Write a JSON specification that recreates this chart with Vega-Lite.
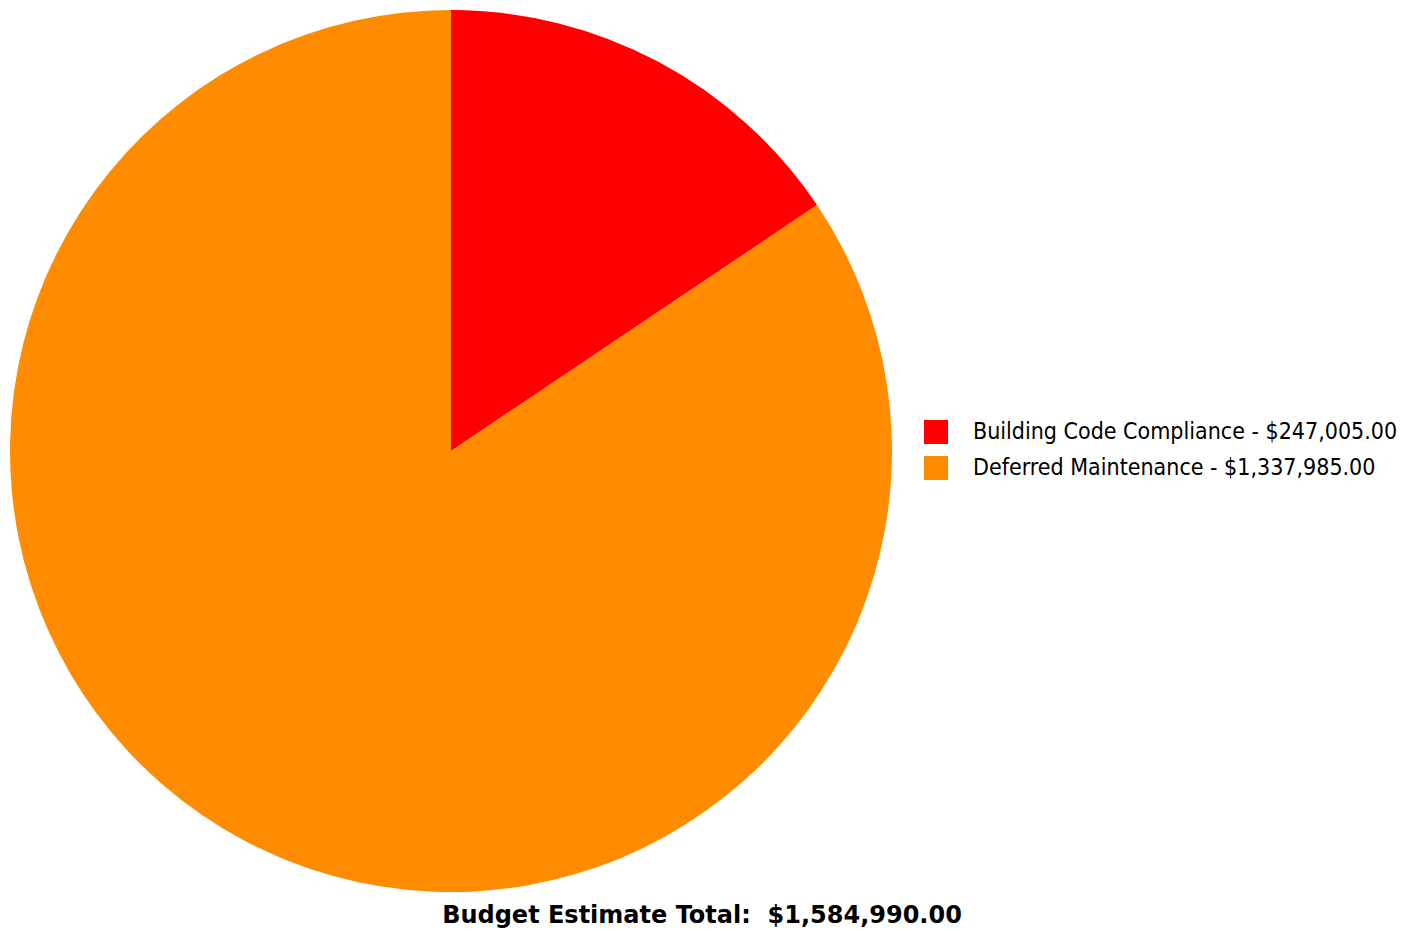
{
  "$schema": "https://vega.github.io/schema/vega-lite/v6.json",
  "width": 902,
  "height": 902,
  "padding": 0,
  "autosize": {"type": "pad"},
  "background": "white",
  "config": {"view": {"stroke": null}},
  "title": {
    "text": "Budget Estimate Total: \u00a0$1,584,990.00",
    "orient": "bottom",
    "anchor": "middle",
    "frame": "group",
    "dx": 251,
    "offset": 2,
    "font": "DejaVu Sans",
    "fontSize": 24,
    "fontWeight": "bold",
    "color": "black"
  },
  "data": {
    "values": [
      {"category": "Building Code Compliance - $247,005.00", "amount": 247005},
      {"category": "Deferred Maintenance - $1,337,985.00", "amount": 1337985}
    ]
  },
  "mark": {"type": "arc", "outerRadius": 441, "stroke": null},
  "encoding": {
    "theta": {"field": "amount", "type": "quantitative", "stack": true},
    "order": {"field": "category", "sort": "ascending"},
    "color": {
      "field": "category",
      "type": "nominal",
      "scale": {
        "domain": ["Building Code Compliance - $247,005.00", "Deferred Maintenance - $1,337,985.00"],
        "range": ["#FF0000", "#FF8C00"]
      },
      "legend": {
        "title": null,
        "orient": "none",
        "legendX": 924,
        "legendY": 420,
        "padding": 0,
        "symbolType": "square",
        "symbolSize": 576,
        "symbolStrokeWidth": 0,
        "symbolOpacity": 1,
        "labelOffset": 25,
        "labelFont": "DejaVu Sans Condensed",
        "labelFontSize": 23,
        "labelColor": "black",
        "labelLimit": 600,
        "rowPadding": 12
      }
    }
  }
}
